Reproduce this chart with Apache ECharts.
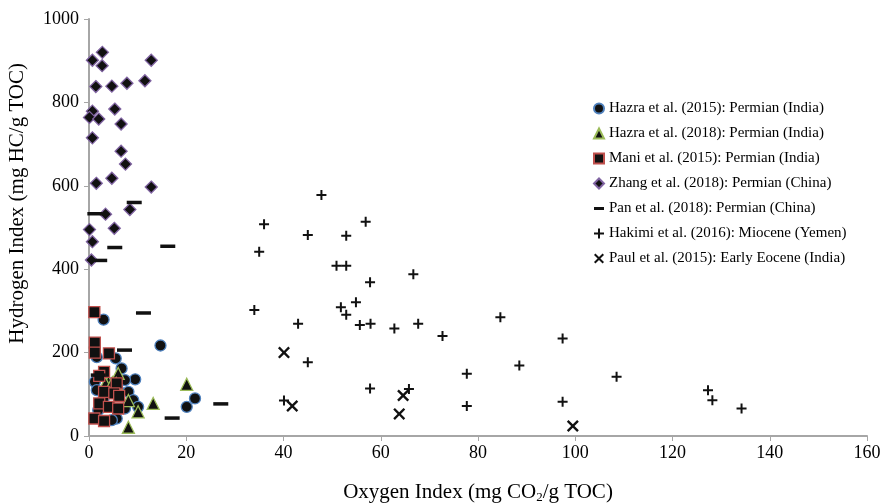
<!DOCTYPE html>
<html><head><meta charset="utf-8">
<script src="https://cdn.jsdelivr.net/npm/echarts@6/dist/echarts.min.js"></script>
<style>html,body{margin:0;padding:0;background:#fff}#c{width:881px;height:503px}</style>
</head><body><div id="c"></div>
<script>
const xTicks = [0,20,40,60,80,100,120,140,160];
const yTicks = [0,200,400,600,800,1000];
const seriesNames = [
  'Hazra et al. (2015): Permian (India)',
  'Hazra et al. (2018): Permian (India)',
  'Mani et al. (2015): Permian (India)',
  'Zhang et al. (2018): Permian (China)',
  'Pan et al. (2018): Permian (China)',
  'Hakimi et al. (2016): Miocene (Yemen)',
  'Paul et al. (2015): Early Eocene (India)'
];
const hazra2015 = [[3.0,279],[14.7,217],[21.8,90],[20.1,70],[6.7,162],[9.5,136],[1.6,189],[5.5,186],[8.1,106],[9.1,86],[10.1,70],[7.4,66],[5.7,42],[1.2,130],[1.6,110],[4.3,126],[7.4,134],[4.7,38],[1.9,62],[3.0,90],[6.0,110]];
const hazra2018 = [[6.0,150],[4.0,130],[3.4,126],[4.8,128],[5.6,126],[8.1,85],[10.1,58],[8.1,21],[13.2,78],[20.1,124]];
const mani2015 = [[1.1,297],[1.2,224],[1.2,200],[4.1,198],[3.1,154],[2.1,144],[5.7,126],[3.1,106],[5.2,102],[6.2,96],[2.1,78],[4.1,70],[6.0,66],[1.1,42],[3.1,36]];
const zhang2018 = [[2.75,920],[0.7,901],[2.7,888],[12.8,901],[1.4,838],[4.7,839],[7.8,846],[11.5,852],[0.7,779],[0.1,764],[2.0,760],[5.3,784],[6.6,748],[0.7,715],[6.6,683],[7.5,652],[1.5,606],[4.7,618],[12.8,597],[3.4,532],[8.4,543],[0.1,495],[5.2,498],[0.7,466],[0.5,422]];
const pan2018 = [[1.2,533],[9.3,560],[5.3,452],[16.2,455],[2.2,421],[11.2,295],[7.3,206],[1.9,146],[27.1,77],[17.1,43]];
const hakimi2016 = [[47.8,578],[56.9,514],[36.0,508],[45.0,482],[52.9,480],[35.0,442],[50.9,408],[52.9,408],[66.7,388],[57.8,369],[54.9,321],[51.8,309],[52.9,291],[34.0,302],[43.0,269],[55.7,266],[57.9,269],[62.8,258],[67.7,269],[72.7,240],[84.6,285],[97.4,234],[45.0,177],[88.5,169],[77.7,149],[57.8,114],[65.8,113],[40.1,85],[77.7,72],[97.4,82],[108.5,142],[127.3,110],[128.2,86],[134.2,66]];
const paul2015 = [[40.1,200],[41.8,72],[64.6,97],[63.8,53],[99.5,24]];

const FONT = '"Liberation Serif","Times New Roman",serif';
const PLUS = 'path://M4,0h2v4h4v2h-4v4h-2v-4h-4v-2h4z';
const CROSS = 'path://M0,1.4L1.4,0L5,3.6L8.6,0L10,1.4L6.4,5L10,8.6L8.6,10L5,6.4L1.4,10L0,8.6L3.6,5z';
const DASH = 'path://M0,0h10v3h-10z';

const chart = echarts.init(document.getElementById('c'), null, {renderer:'canvas'});
function sc(name, data, symbol, size, border, extra) {
  return Object.assign({
    name, type:'scatter', data, symbol, symbolSize:size, z: 2,
    itemStyle:{color:'#111', borderColor:border || '#111', borderWidth: border ? 1.3 : 0, opacity:1},
    emphasis:{disabled:true}, animation:false
  }, extra || {});
}
chart.setOption({
  animation:false,
  textStyle:{fontFamily:FONT},
  grid:{left:89, right:14, top:19, bottom:67, containLabel:false, outerBoundsMode:'none'},
  xAxis:{
    type:'value', min:0, max:160, interval:20,
    axisLine:{show:true, lineStyle:{color:'#a6a6a6', width:2}},
    axisTick:{show:true, length:5, lineStyle:{color:'#a6a6a6', width:1}},
    axisLabel:{color:'#000', fontFamily:FONT, fontSize:18, margin:8, formatter:(v)=>String(v)},
    splitLine:{show:false},
    name:'Oxygen Index (mg CO{sub|2}/g TOC)', nameLocation:'middle', nameGap:45,
    nameTextStyle:{color:'#000', fontFamily:FONT, fontSize:21,
      rich:{sub:{fontFamily:FONT, fontSize:13, verticalAlign:'bottom', padding:[10,0,0,0], color:'#000'}}}
  },
  yAxis:{
    type:'value', min:0, max:1000, interval:200,
    axisLine:{show:true, lineStyle:{color:'#a6a6a6', width:2}},
    axisTick:{show:true, length:5, lineStyle:{color:'#a6a6a6', width:1}},
    axisLabel:{color:'#000', fontFamily:FONT, fontSize:18, margin:10, formatter:(v)=>String(v)},
    splitLine:{show:false}
  },
  graphic:[{
    type:'text', left:7, top:63, rotation:Math.PI/2,
    style:{text:'Hydrogen Index (mg HC/g TOC)', fill:'#000', font:'21px ' + FONT}
  }],
  legend:{
    orient:'vertical', left:588, top:96, itemGap:10, itemWidth:10, itemHeight:10,
    textStyle:{color:'#000', fontFamily:FONT, fontSize:15, lineHeight:15},
    selectedMode:false,
    data:[
      {name:seriesNames[0], icon:'circle'},
      {name:seriesNames[1], icon:'triangle'},
      {name:seriesNames[2], icon:'rect'},
      {name:seriesNames[3], icon:'diamond'},
      {name:seriesNames[4], icon:DASH},
      {name:seriesNames[5], icon:PLUS},
      {name:seriesNames[6], icon:CROSS}
    ]
  },
  series:[
    sc(seriesNames[0], hazra2015, 'circle', 11, '#4f81bd'),
    sc(seriesNames[1], hazra2018, 'triangle', 12, '#9bbb59'),
    sc(seriesNames[2], mani2015, 'rect', 11, '#c0504d'),
    sc(seriesNames[3], zhang2018, 'diamond', 12, '#8064a2'),
    sc(seriesNames[4], pan2018, 'rect', [15,3.5], null),
    sc(seriesNames[5], hakimi2016, PLUS, 10, null),
    sc(seriesNames[6], paul2015, CROSS, 12, null)
  ]
});
</script></body></html>
